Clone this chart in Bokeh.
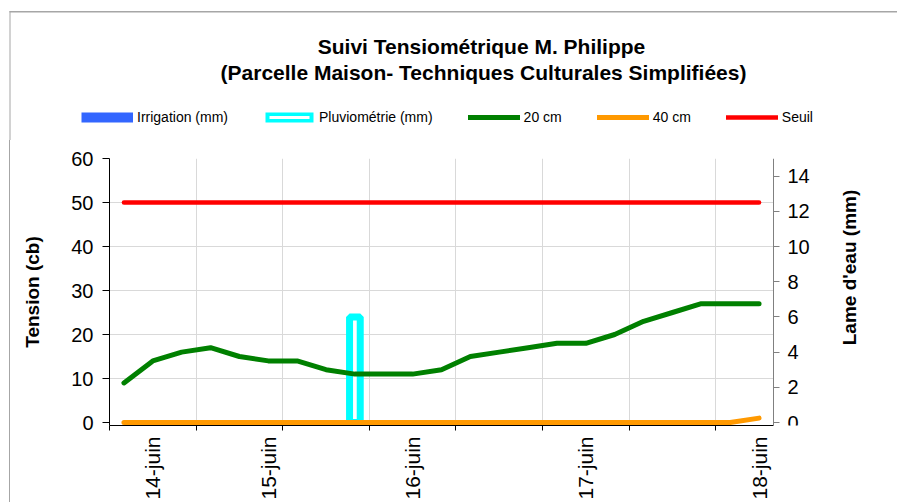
import math
import numpy as np
from bokeh.plotting import figure
from bokeh.models import (Range1d, LinearAxis, FixedTicker, Grid,
                          Legend, LegendItem, Label, BoxAnnotation)
from bokeh.embed import file_html
from bokeh.resources import INLINE

# ---------------- data ----------------
title_line1 = "Suivi Tensiométrique M. Philippe"
title_line2 = "(Parcelle Maison- Techniques Culturales Simplifiées)"
y_left_title = "Tension (cb)"
y_right_title = "Lame d'eau (mm)"

tick_labels = ["", "14-juin", "", "", "", "15-juin", "", "", "", "", "16-juin", "",
               "", "", "", "", "17-juin", "", "", "", "", "", "18-juin"]
tension_20cm = [9, 14, 16, 17, 15, 14, 14, 12, 11, 11, 11, 12,
                15, 16, 17, 18, 18, 20, 23, 25, 27, 27, 27]
tension_40cm = [0, 0, 0, 0, 0, 0, 0, 0, 0, 0, 0, 0,
                0, 0, 0, 0, 0, 0, 0, 0, 0, 0, 1]
seuil = [50, 50, 50, 50, 50, 50, 50, 50, 50, 50, 50, 50,
         50, 50, 50, 50, 50, 50, 50, 50, 50, 50, 50]
irrigation_mm = [0, 0, 0, 0, 0, 0, 0, 0, 0, 0, 0, 0,
                 0, 0, 0, 0, 0, 0, 0, 0, 0, 0, 0]
pluvio_mm = [0, 0, 0, 0, 0, 0, 0, 0, 6, 0, 0, 0,
             0, 0, 0, 0, 0, 0, 0, 0, 0, 0, 0]
left_ticks = [0, 10, 20, 30, 40, 50, 60]
right_ticks = [0, 2, 4, 6, 8, 10, 12, 14]
left_max = 60
right_max = 15

# ---------------- styles / geometry ----------------
FONT = "Liberation Sans"
BLUE = "#3366FF"
CYAN = "#00FFFF"
GREEN = "#008000"
ORANGE = "#FF9900"
RED = "#FF0000"
GRID = "#d9d9d9"
FRAME_GRAY = "#a6a6a6"

n = len(tension_20cm)
x = np.arange(n) + 0.5

TOP_H = 140          # header figure (titles + legend)
TOP_W = 897
PLOT_W = 664         # width of the plotted category area
PLOT_H = 264
PAD_BELOW = 3        # frame extends a little below zero so the 0-lines are not cut
EXTRA_RIGHT = 88     # frame continues right of the secondary axis (room for its title)
MAIN_LEFT_PAGE = 10  # main figure content starts after margin + border
BORDER_L, BORDER_R, BORDER_T, BORDER_B = 99, 38, 18, 74
FRAME_LEFT_PAGE = MAIN_LEFT_PAGE + BORDER_L
FRAME_BOTTOM_PAGE = TOP_H + BORDER_T + PLOT_H + PAD_BELOW

px_per_unit = PLOT_H / left_max
px_per_cat = PLOT_W / n
y0 = -PAD_BELOW / px_per_unit
x1 = n + EXTRA_RIGHT / px_per_cat
ratio = right_max / left_max

# ---------------- header figure ----------------
head = figure(title=None, frame_width=TOP_W, frame_height=TOP_H, min_border=0,
              x_range=Range1d(0, 1), y_range=Range1d(0, 1),
              x_axis_location=None, y_axis_location=None,
              output_backend="svg", toolbar_location=None)
head.grid.visible = False
head.outline_line_color = None
head.background_fill_color = "white"
head.border_fill_color = "white"


def hy(page_y):
    return TOP_H - page_y


# swatch renderers for the legend (masked data: nothing is drawn)
irr = np.array(irrigation_mm, dtype=float)
plu = np.array(pluvio_mm, dtype=float)
plu_top = np.where(plu > 0, plu, np.nan)
irr_top = np.where(irr > 0, irr, np.nan)
nan_y = np.full(n, np.nan)
sw_irr = head.line(x, nan_y, line_color=BLUE, line_width=10)
sw_plu_out = head.line(x, nan_y, line_color=CYAN, line_width=10, line_dash="0 2 48 2")
sw_plu_in = head.line(x, nan_y, line_color="white", line_width=3, line_dash="0 6 40 6")
sw_20 = head.line(x, nan_y, line_color=GREEN, line_width=5, line_cap="round")
sw_40 = head.line(x, nan_y, line_color=ORANGE, line_width=5, line_cap="round")
sw_se = head.line(x, nan_y, line_color=RED, line_width=4.5, line_cap="round")

legend = Legend(items=[
    LegendItem(label="Irrigation (mm)", renderers=[sw_irr]),
    LegendItem(label="Pluviométrie (mm)", renderers=[sw_plu_out, sw_plu_in]),
    LegendItem(label="20 cm", renderers=[sw_20]),
    LegendItem(label="40 cm", renderers=[sw_40]),
    LegendItem(label="Seuil", renderers=[sw_se]),
], orientation="horizontal", location=(81, hy(125)),
    glyph_width=52, glyph_height=16, label_height=16, label_standoff=4,
    spacing=35, padding=0, margin=0, border_line_color=None,
    background_fill_alpha=0, label_text_font=FONT, label_text_font_size="14px",
    label_text_color="black")
head.add_layout(legend)

for txt, px_, py_ in [(title_line1, 481, 46), (title_line2, 483, 72)]:
    head.add_layout(Label(x=px_, y=hy(py_), x_units="screen", y_units="screen", text=txt,
                          text_align="center", text_baseline="middle", text_font=FONT,
                          text_font_style="bold", text_font_size="21px",
                          text_color="black"))

# chart-area border (top + left part in the header)
head.add_layout(BoxAnnotation(left=9, right=TOP_W + 10, bottom=hy(12), top=hy(10.5),
                              left_units="screen", right_units="screen",
                              bottom_units="screen", top_units="screen",
                              fill_color=FRAME_GRAY, fill_alpha=1, line_color=None))
head.add_layout(BoxAnnotation(left=9, right=10, bottom=-5, top=hy(10.5),
                              left_units="screen", right_units="screen",
                              bottom_units="screen", top_units="screen",
                              fill_color=FRAME_GRAY, fill_alpha=1, line_color=None))

# ---------------- main figure ----------------
tick_every = 3
boundaries = list(range(0, n, tick_every))
label_ticks = [i + 0.5 for i, lab in enumerate(tick_labels) if lab]
label_over = {i + 0.5: lab for i, lab in enumerate(tick_labels) if lab}

p = figure(title=None, frame_width=PLOT_W + EXTRA_RIGHT, frame_height=PLOT_H + PAD_BELOW,
           min_border_left=BORDER_L, min_border_right=BORDER_R,
           min_border_top=BORDER_T, min_border_bottom=BORDER_B,
           x_range=Range1d(0, x1), y_range=Range1d(y0, left_max),
           output_backend="svg", toolbar_location=None)
p.margin = (0, 0, 0, 9)
p.styles = {"border-left": "1px solid " + FRAME_GRAY}
p.outline_line_color = None
p.background_fill_color = "white"
p.border_fill_color = "white"
p.extra_y_ranges = {"lame": Range1d(y0 * ratio, right_max)}

# x axis
xa = p.xaxis[0]
xa.bounds = (0, n)
xa.ticker = FixedTicker(ticks=label_ticks, minor_ticks=boundaries)
xa.major_label_overrides = label_over
xa.major_label_orientation = math.pi / 2
xa.major_tick_out = 0
xa.major_tick_in = 0
xa.minor_tick_out = 5
xa.minor_tick_in = 0
xa.minor_tick_line_color = "black"
xa.axis_line_color = "black"
xa.major_label_standoff = 6
xa.major_label_text_font = FONT
xa.major_label_text_font_size = "21px"
xa.major_label_text_color = "black"

# left axis
ya = p.yaxis[0]
ya.bounds = (y0, left_max)
ya.ticker = FixedTicker(ticks=left_ticks)
ya.major_tick_out = 7
ya.major_tick_in = 0
ya.minor_tick_out = 0
ya.minor_tick_in = 0
ya.axis_line_color = "black"
ya.major_tick_line_color = "black"
ya.major_label_standoff = 9
ya.major_label_text_font = FONT
ya.major_label_text_font_size = "20px"
ya.major_label_text_color = "black"
ya.axis_label = y_left_title
ya.axis_label_standoff = 25
ya.axis_label_text_font = FONT
ya.axis_label_text_font_style = "bold"
ya.axis_label_text_font_size = "19px"
ya.axis_label_text_color = "black"

# right (secondary) axis, placed at the end of the categories
ra = LinearAxis(y_range_name="lame", ticker=FixedTicker(ticks=right_ticks))
ra.fixed_location = n
ra.bounds = (y0 * ratio, right_max)
ra.axis_line_color = "#808080"
ra.major_tick_line_color = "#808080"
ra.major_tick_out = 6
ra.major_tick_in = 0
ra.minor_tick_out = 0
ra.minor_tick_in = 0
ra.major_label_standoff = 8
ra.major_label_text_font = FONT
ra.major_label_text_font_size = "20px"
ra.major_label_text_color = "black"
p.add_layout(ra, "right")

p.add_layout(Label(x=849 - FRAME_LEFT_PAGE, y=FRAME_BOTTOM_PAGE - 267,
                   x_units="screen", y_units="screen", text=y_right_title,
                   angle=math.pi / 2, text_align="center", text_baseline="middle",
                   text_font=FONT, text_font_style="bold", text_font_size="19px",
                   text_color="black"))

# grids
p.xgrid.ticker = FixedTicker(ticks=boundaries[1:])
p.ygrid.ticker = FixedTicker(ticks=left_ticks[1:])
p.xgrid.grid_line_color = GRID
p.ygrid.grid_line_color = GRID
if "cross_bounds" in Grid.properties():
    p.xgrid.cross_bounds = (0, left_max)
    p.ygrid.cross_bounds = (0, n)

# bars (secondary axis)
p.vbar(x=x, top=irr_top, bottom=0, width=0.37, y_range_name="lame",
       fill_color=BLUE, line_color=BLUE, line_width=7)
p.vbar(x=x, top=plu_top, bottom=0, width=0.37, y_range_name="lame",
       fill_color="white", line_color=CYAN, line_width=7)

# lines
p.line(x, tension_20cm, line_color=GREEN, line_width=5, line_join="round", line_cap="round")
p.line(x, tension_40cm, line_color=ORANGE, line_width=5, line_join="round", line_cap="round")
p.line(x, seuil, line_color=RED, line_width=4.5, line_join="round", line_cap="round")

open("out.html", "w").write(file_html([head, p], INLINE))
